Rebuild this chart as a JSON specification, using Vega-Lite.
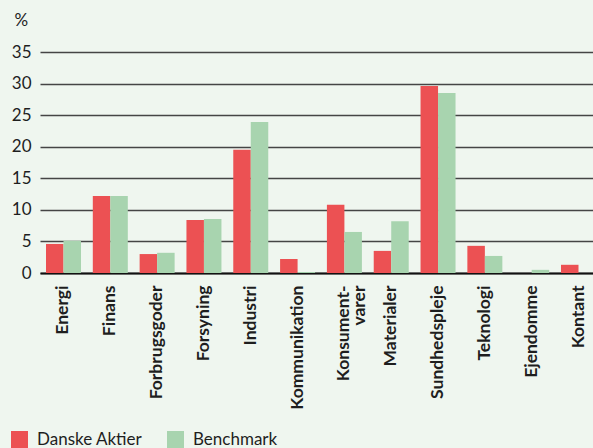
{
  "$schema": "https://vega.github.io/schema/vega-lite/v6.json",
  "description": "Sektorfordeling Danske Aktier mod benchmark",
  "width": 556,
  "height": 221,
  "autosize": "none",
  "padding": {"left": 40, "top": 52, "right": -3, "bottom": 175},
  "background": "#eff6ef",
  "data": {
    "values": [
      {"sektor": "Energi", "serie": "Danske Aktier", "pct": 4.6},
      {"sektor": "Energi", "serie": "Benchmark", "pct": 5.1},
      {"sektor": "Finans", "serie": "Danske Aktier", "pct": 12.2},
      {"sektor": "Finans", "serie": "Benchmark", "pct": 12.2},
      {"sektor": "Forbrugsgoder", "serie": "Danske Aktier", "pct": 3.0},
      {"sektor": "Forbrugsgoder", "serie": "Benchmark", "pct": 3.2},
      {"sektor": "Forsyning", "serie": "Danske Aktier", "pct": 8.4},
      {"sektor": "Forsyning", "serie": "Benchmark", "pct": 8.55},
      {"sektor": "Industri", "serie": "Danske Aktier", "pct": 19.5},
      {"sektor": "Industri", "serie": "Benchmark", "pct": 23.9},
      {"sektor": "Kommunikation", "serie": "Danske Aktier", "pct": 2.2},
      {"sektor": "Kommunikation", "serie": "Benchmark", "pct": 0.15},
      {"sektor": "Konsumentvarer", "serie": "Danske Aktier", "pct": 10.8},
      {"sektor": "Konsumentvarer", "serie": "Benchmark", "pct": 6.5},
      {"sektor": "Materialer", "serie": "Danske Aktier", "pct": 3.5},
      {"sektor": "Materialer", "serie": "Benchmark", "pct": 8.2},
      {"sektor": "Sundhedspleje", "serie": "Danske Aktier", "pct": 29.6},
      {"sektor": "Sundhedspleje", "serie": "Benchmark", "pct": 28.5},
      {"sektor": "Teknologi", "serie": "Danske Aktier", "pct": 4.3},
      {"sektor": "Teknologi", "serie": "Benchmark", "pct": 2.7},
      {"sektor": "Ejendomme", "serie": "Danske Aktier", "pct": 0},
      {"sektor": "Ejendomme", "serie": "Benchmark", "pct": 0.5},
      {"sektor": "Kontant", "serie": "Danske Aktier", "pct": 1.3},
      {"sektor": "Kontant", "serie": "Benchmark", "pct": 0}
    ]
  },
  "config": {
    "view": {"stroke": null},
    "font": "Lato",
    "axis": {"labelColor": "#1e1e1e", "titleColor": "#1e1e1e"}
  },
  "mark": {"type": "bar"},
  "encoding": {
    "x": {
      "field": "sektor",
      "type": "nominal",
      "sort": null,
      "scale": {"paddingInner": 0.2525, "paddingOuter": 0.064, "align": 1},
      "axis": {
        "title": null,
        "labelAngle": -90,
        "labelFontSize": 17.5,
        "labelFontWeight": "bold",
        "labelPadding": 12,
        "labelLineHeight": 16,
        "labelExpr": "datum.value == 'Konsumentvarer' ? ['Konsument-', 'varer'] : datum.value",
        "ticks": false,
        "domainColor": "#111111",
        "domainWidth": 2
      }
    },
    "xOffset": {
      "field": "serie",
      "type": "nominal",
      "sort": ["Danske Aktier", "Benchmark"],
      "scale": {"paddingInner": 0, "paddingOuter": 0}
    },
    "y": {
      "field": "pct",
      "type": "quantitative",
      "scale": {"domain": [0, 35], "nice": false},
      "axis": {
        "values": [0, 5, 10, 15, 20, 25, 30, 35],
        "title": "%",
        "titleAngle": 0,
        "titleFontSize": 17,
        "titleFontWeight": "normal",
        "titleAlign": "left",
        "titleBaseline": "alphabetic",
        "titleX": -26,
        "titleY": -27,
        "labelFontSize": 17,
        "labelPadding": 9,
        "ticks": false,
        "domain": false,
        "gridColor": "#454545",
        "gridWidth": 1.3
      }
    },
    "color": {
      "field": "serie",
      "type": "nominal",
      "sort": ["Danske Aktier", "Benchmark"],
      "scale": {"domain": ["Danske Aktier", "Benchmark"], "range": ["#ec5153", "#a8d4af"]},
      "legend": {
        "title": null,
        "orient": "none",
        "direction": "horizontal",
        "legendX": -29,
        "legendY": 379,
        "symbolType": "square",
        "symbolSize": 289,
        "symbolStrokeWidth": 0,
        "symbolOpacity": 1,
        "labelFontSize": 17,
        "labelColor": "#1e1e1e",
        "labelOffset": 9,
        "columnPadding": 24
      }
    }
  }
}
